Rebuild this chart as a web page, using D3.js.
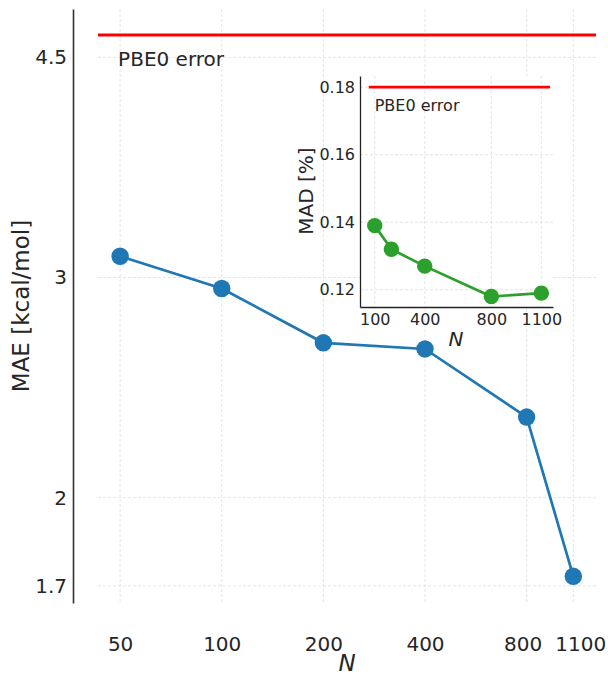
<!DOCTYPE html>
<html lang="en">
<head>
    <meta charset="UTF-8">
    <title>MAE vs N</title>
    <script src="https://cdn.jsdelivr.net/npm/d3@7"></script>
    <style>
        body { margin: 0; background: #fff; }
        text { font-family: "DejaVu Sans", sans-serif; fill: #262626; }
    </style>
</head>
<body>
<svg width="608" height="677"></svg>
<script>
    // main panel data
    var sizes = [50, 100, 200, 400, 800, 1100];
    var mae = [3.12, 2.94, 2.66, 2.63, 2.32, 1.73];
    var maeTicks = [1.7, 2, 3, 4.5];
    var pbe0Mae = 4.69;

    // inset data
    var insetSizes = [100, 200, 400, 800, 1100];
    var mad = [0.139, 0.132, 0.127, 0.118, 0.119];
    var insetSizeTicks = [100, 400, 800, 1100];
    var madTicks = [0.12, 0.14, 0.16, 0.18];
    var pbe0Mad = 0.18;
    var pbe0MadSpan = [64, 1152];

    var svg = d3.select("svg");
    var gridColor = "#dedede";

    // ---- main axes ----
    var x = d3.scaleLog().domain([43, 1284]).range([98, 596]);
    var y = d3.scaleLog().domain([1.647, 4.92]).range([603, 9]);

    var grid = svg.append("g").attr("stroke", gridColor).attr("stroke-width", 0.8).attr("stroke-dasharray", "3,2");
    grid.selectAll(".vx").data(sizes).enter().append("line")
        .attr("x1", d => x(d)).attr("x2", d => x(d))
        .attr("y1", y.range()[1]).attr("y2", y.range()[0]);
    grid.selectAll(".hy").data(maeTicks).enter().append("line")
        .attr("x1", x.range()[0]).attr("x2", x.range()[1])
        .attr("y1", d => y(d)).attr("y2", d => y(d));

    var yAxis = svg.append("g")
        .attr("transform", "translate(73,0)")
        .call(d3.axisLeft(y).tickValues(maeTicks).tickFormat(d => d).tickSize(0).tickPadding(6));
    yAxis.select(".domain").attr("stroke", "#333").attr("stroke-width", 1.6);
    yAxis.selectAll("text").attr("font-size", 20).attr("font-family", "DejaVu Sans").attr("fill", "#262626");

    var xAxis = svg.append("g")
        .attr("transform", "translate(0,603)")
        .call(d3.axisBottom(x).tickValues(sizes).tickFormat(d => d).tickSize(0).tickPadding(34));
    xAxis.select(".domain").remove();
    // the last two labels sit a little apart so they don't touch
    xAxis.selectAll("text").attr("font-size", 20).attr("font-family", "DejaVu Sans").attr("fill", "#262626")
        .attr("dx", d => d === 800 ? -4 : d === 1100 ? 7 : 0);

    // PBE0 reference
    svg.append("line")
        .attr("x1", x.range()[0]).attr("x2", x.range()[1])
        .attr("y1", y(pbe0Mae)).attr("y2", y(pbe0Mae))
        .attr("stroke", "#ff0000").attr("stroke-width", 3.2);
    svg.append("text").text("PBE0 error")
        .attr("x", x(sizes[0]) - 2).attr("y", y(pbe0Mae) + 31)
        .attr("font-size", 20);

    var maeData = sizes.map((d, i) => [d, mae[i]]);
    svg.append("path").datum(maeData)
        .attr("fill", "none").attr("stroke", "#1f77b4").attr("stroke-width", 2.7)
        .attr("d", d3.line().x(d => x(d[0])).y(d => y(d[1])));
    svg.selectAll(".dot").data(maeData).enter().append("circle")
        .attr("cx", d => x(d[0])).attr("cy", d => y(d[1])).attr("r", 8.7)
        .attr("fill", "#1f77b4");

    svg.append("text").text("MAE [kcal/mol]")
        .attr("transform", "translate(29,306) rotate(-90)")
        .attr("text-anchor", "middle").attr("font-size", 23);
    svg.append("text").text("N")
        .attr("x", 347).attr("y", 671)
        .attr("text-anchor", "middle").attr("font-size", 23).attr("font-style", "italic");

    // ---- inset ----
    var ix = d3.scaleLinear().domain([11.6, 1170]).range([360, 553]);
    var iy = d3.scaleLinear().domain([0.1149, 0.1833]).range([307, 76]);
    var inset = svg.append("g");

    inset.append("rect")
        .attr("x", ix.range()[0]).attr("y", iy.range()[1])
        .attr("width", ix.range()[1] - ix.range()[0]).attr("height", iy.range()[0] - iy.range()[1])
        .attr("fill", "#fff");

    var igrid = inset.append("g").attr("stroke", gridColor).attr("stroke-width", 0.8).attr("stroke-dasharray", "3,2");
    igrid.selectAll(".vx").data(insetSizeTicks).enter().append("line")
        .attr("x1", d => ix(d)).attr("x2", d => ix(d))
        .attr("y1", iy.range()[1]).attr("y2", iy.range()[0]);
    igrid.selectAll(".hy").data(madTicks).enter().append("line")
        .attr("x1", ix.range()[0]).attr("x2", ix.range()[1])
        .attr("y1", d => iy(d)).attr("y2", d => iy(d));

    var iyAxis = inset.append("g")
        .attr("transform", "translate(360,0)")
        .call(d3.axisLeft(iy).tickValues(madTicks).tickFormat(d3.format(".2f")).tickSize(0).tickPadding(5));
    iyAxis.select(".domain").attr("stroke", "#222").attr("stroke-width", 1.3);
    iyAxis.selectAll("text").attr("font-size", 16).attr("font-family", "DejaVu Sans").attr("fill", "#262626");

    var ixAxis = inset.append("g")
        .attr("transform", "translate(0,307)")
        .call(d3.axisBottom(ix).tickValues(insetSizeTicks).tickFormat(d => d).tickSize(0).tickPadding(7));
    ixAxis.select(".domain").attr("stroke", "#222").attr("stroke-width", 1.3);
    ixAxis.selectAll("text").attr("font-size", 16).attr("font-family", "DejaVu Sans").attr("fill", "#262626");

    inset.append("line")
        .attr("x1", ix(pbe0MadSpan[0])).attr("x2", ix(pbe0MadSpan[1]))
        .attr("y1", iy(pbe0Mad)).attr("y2", iy(pbe0Mad))
        .attr("stroke", "#ff0000").attr("stroke-width", 2.8);
    inset.append("text").text("PBE0 error")
        .attr("x", ix(insetSizes[0])).attr("y", iy(pbe0Mad) + 24)
        .attr("font-size", 16);

    var madData = insetSizes.map((d, i) => [d, mad[i]]);
    inset.append("path").datum(madData)
        .attr("fill", "none").attr("stroke", "#2ca02c").attr("stroke-width", 2.7)
        .attr("d", d3.line().x(d => ix(d[0])).y(d => iy(d[1])));
    inset.selectAll(".idot").data(madData).enter().append("circle")
        .attr("cx", d => ix(d[0])).attr("cy", d => iy(d[1])).attr("r", 7.7)
        .attr("fill", "#2ca02c");

    inset.append("text").text("MAD [%]")
        .attr("transform", "translate(313,191) rotate(-90)")
        .attr("text-anchor", "middle").attr("font-size", 20);
    inset.append("text").text("N")
        .attr("x", 456).attr("y", 346)
        .attr("text-anchor", "middle").attr("font-size", 20).attr("font-style", "italic");
</script>
</body>
</html>
